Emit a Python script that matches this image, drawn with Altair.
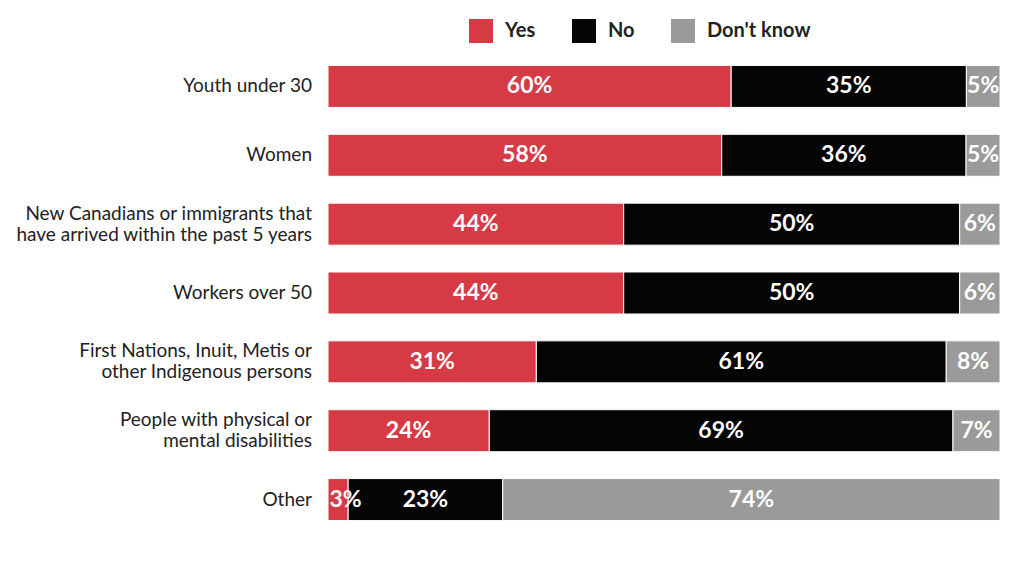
import altair as alt
import pandas as pd

categories = [
    "Youth under 30",
    "Women",
    "New Canadians or immigrants that|have arrived within the past 5 years",
    "Workers over 50",
    "First Nations, Inuit, Metis or|other Indigenous persons",
    "People with physical or|mental disabilities",
    "Other",
]
yes = [60, 58, 44, 44, 31, 24, 3]
no = [35, 36, 50, 50, 61, 69, 23]
dont_know = [5, 5, 6, 6, 8, 7, 74]
responses = ["Yes", "No", "Don't know"]
colors = ["#d63a45", "#050505", "#9a9a9a"]

rows = []
for i, c in enumerate(categories):
    for j, (r, v) in enumerate(zip(responses, [yes[i], no[i], dont_know[i]])):
        rows.append({"category": c, "response": r, "value": v, "order": j})
df = pd.DataFrame(rows)
cat_df = pd.DataFrame({"category": categories})

base = alt.Chart(df).transform_stack(
    stack="value", groupby=["category"], as_=["x0", "x1"],
    sort=[alt.SortField("order", order="ascending")],
    offset="normalize",
).transform_calculate(
    mid="max((datum.x0 + datum.x1) / 2, 0.026)", label="datum.value + '%'"
)

yscale = alt.Scale(domain=categories, paddingInner=0.39, paddingOuter=0.195)
y = alt.Y("category:N", sort=categories, scale=yscale, axis=None)
xs = alt.Scale(domain=[0, 1], nice=False, zero=True)

bars = base.mark_bar(stroke="white", strokeWidth=1).encode(
    y=y,
    x=alt.X("x0:Q", scale=xs, axis=None),
    x2="x1:Q",
    color=alt.Color(
        "response:N",
        scale=alt.Scale(domain=responses, range=colors),
        legend=alt.Legend(
            title=None, orient="none", legendX=141, legendY=-33,
            direction="horizontal", symbolType="square", symbolSize=576,
            symbolStrokeWidth=0, labelFont="Lato", labelFontSize=20,
            labelFontWeight="bold", labelColor="#222222", labelOffset=12,
            columnPadding=36, symbolOpacity=1,
        ),
    ),
)

text = base.mark_text(
    color="white", font="Lato", fontSize=23, fontWeight="bold", clip=True
).encode(
    y=y,
    x=alt.X("mid:Q", scale=xs),
    text="label:N",
)

label_style = dict(align="right", baseline="middle", font="Lato",
                   fontSize=19, color="#222222", lineHeight=21)
cat_base = alt.Chart(cat_df).transform_calculate(
    lines="split(datum.category, '|')"
).transform_calculate(n="length(datum.lines)")

single = cat_base.transform_filter("datum.n == 1").mark_text(**label_style).encode(
    y=y, x=alt.value(-16), text=alt.Text("lines:N")
)
double = cat_base.transform_filter("datum.n == 2").mark_text(dy=-10.5, **label_style).encode(
    y=y, x=alt.value(-16), text=alt.Text("lines:N")
)

chart = alt.layer(bars, text, single, double).properties(
    width=672, height=482,
    autosize=alt.AutoSizeParams(type="none"),
    padding={"left": 320, "top": 44, "right": 4, "bottom": 20},
).configure(background="white").configure_view(strokeWidth=0, stroke=None)

chart.save("out.html", embed_options={"renderer": "svg", "actions": False})
